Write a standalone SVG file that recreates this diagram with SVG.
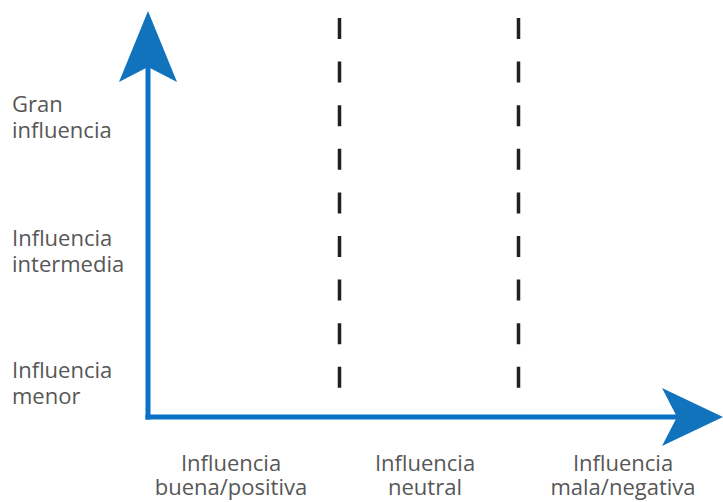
<svg xmlns="http://www.w3.org/2000/svg" width="723" height="502" viewBox="0 0 723 502">
<style>
.lbl{font-family:"Open Sans","Noto Sans","DejaVu Sans",sans-serif;font-size:22px;fill:#575757}
.mid{text-anchor:middle}
.axis{stroke:#0a71c6;stroke-width:5;fill:none}
.head{fill:#1273bd}
.dash{stroke:#231f20;stroke-width:3.5;stroke-dasharray:21 22.6;fill:none}
</style>
<rect width="723" height="502" fill="#ffffff"/>
<g id="connectors">
<line class="axis" x1="148" y1="66" x2="148" y2="419.5"/>
<line class="axis" x1="145.5" y1="417" x2="678" y2="417"/>
<polygon class="head" points="148,11 177,82 148,67 119,82"/>
<polygon class="head" points="723,417 662,388 677,417 662,446"/>
<line class="dash" x1="339.5" y1="18" x2="339.5" y2="388"/>
<line class="dash" x1="518.5" y1="18" x2="518.5" y2="388"/>
</g>
<g id="y-high"><text class="lbl" x="12" y="112">Gran</text><text class="lbl" x="12" y="138">influencia</text></g>
<g id="y-mid"><text class="lbl" x="12" y="246">Influencia</text><text class="lbl" x="12" y="272">intermedia</text></g>
<g id="y-low"><text class="lbl" x="12" y="378">Influencia</text><text class="lbl" x="12" y="404">menor</text></g>
<g id="x-good"><text class="lbl mid" x="231" y="471">Influencia</text><text class="lbl mid" x="231" y="495">buena/positiva</text></g>
<g id="x-neutral"><text class="lbl mid" x="425" y="471">Influencia</text><text class="lbl mid" x="425" y="495">neutral</text></g>
<g id="x-bad"><text class="lbl mid" x="623" y="471">Influencia</text><text class="lbl mid" x="623" y="495">mala/negativa</text></g>
</svg>
